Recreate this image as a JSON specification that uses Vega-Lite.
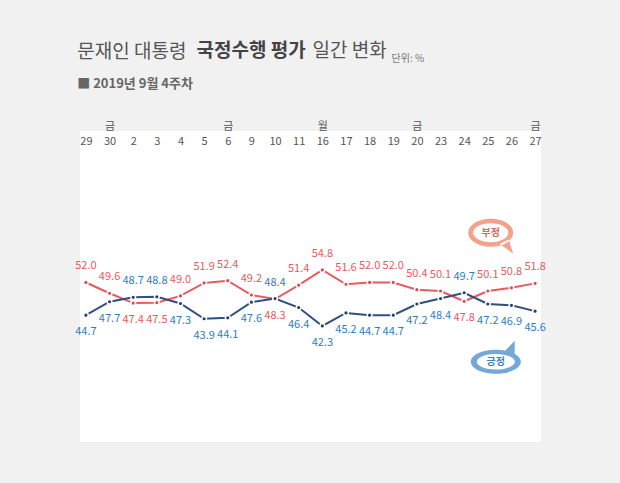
{
  "$schema": "https://vega.github.io/schema/vega-lite/v6.json",
  "width": 461,
  "height": 311,
  "autosize": "none",
  "padding": {"left": 80, "top": 131, "right": 79, "bottom": 41},
  "background": "#f1f1f1",
  "config": {
    "font": "Noto Sans CJK KR",
    "view": {"fill": "white", "stroke": null}
  },
  "title": {
    "text": "문재인 대통령",
    "subtitle": "■ 2019년 9월 4주차",
    "anchor": "start",
    "fontSize": 19,
    "fontWeight": "normal",
    "color": "#555555",
    "subtitleFontSize": 13,
    "subtitleFontWeight": "bold",
    "subtitleColor": "#666666",
    "subtitlePadding": 16,
    "offset": -50,
    "dx": 2
  },
  "data": {
    "values": [
      {"day": "29", "dow": "", "type": "부정", "value": 52.0},
      {"day": "30", "dow": "금", "type": "부정", "value": 49.6},
      {"day": "2", "dow": "", "type": "부정", "value": 47.4},
      {"day": "3", "dow": "", "type": "부정", "value": 47.5},
      {"day": "4", "dow": "", "type": "부정", "value": 49.0},
      {"day": "5", "dow": "", "type": "부정", "value": 51.9},
      {"day": "6", "dow": "금", "type": "부정", "value": 52.4},
      {"day": "9", "dow": "", "type": "부정", "value": 49.2},
      {"day": "10", "dow": "", "type": "부정", "value": 48.3},
      {"day": "11", "dow": "", "type": "부정", "value": 51.4},
      {"day": "16", "dow": "월", "type": "부정", "value": 54.8},
      {"day": "17", "dow": "", "type": "부정", "value": 51.6},
      {"day": "18", "dow": "", "type": "부정", "value": 52.0},
      {"day": "19", "dow": "", "type": "부정", "value": 52.0},
      {"day": "20", "dow": "금", "type": "부정", "value": 50.4},
      {"day": "23", "dow": "", "type": "부정", "value": 50.1},
      {"day": "24", "dow": "", "type": "부정", "value": 47.8},
      {"day": "25", "dow": "", "type": "부정", "value": 50.1},
      {"day": "26", "dow": "", "type": "부정", "value": 50.8},
      {"day": "27", "dow": "금", "type": "부정", "value": 51.8},
      {"day": "29", "dow": "", "type": "긍정", "value": 44.7},
      {"day": "30", "dow": "금", "type": "긍정", "value": 47.7},
      {"day": "2", "dow": "", "type": "긍정", "value": 48.7},
      {"day": "3", "dow": "", "type": "긍정", "value": 48.8},
      {"day": "4", "dow": "", "type": "긍정", "value": 47.3},
      {"day": "5", "dow": "", "type": "긍정", "value": 43.9},
      {"day": "6", "dow": "금", "type": "긍정", "value": 44.1},
      {"day": "9", "dow": "", "type": "긍정", "value": 47.6},
      {"day": "10", "dow": "", "type": "긍정", "value": 48.4},
      {"day": "11", "dow": "", "type": "긍정", "value": 46.4},
      {"day": "16", "dow": "월", "type": "긍정", "value": 42.3},
      {"day": "17", "dow": "", "type": "긍정", "value": 45.2},
      {"day": "18", "dow": "", "type": "긍정", "value": 44.7},
      {"day": "19", "dow": "", "type": "긍정", "value": 44.7},
      {"day": "20", "dow": "금", "type": "긍정", "value": 47.2},
      {"day": "23", "dow": "", "type": "긍정", "value": 48.4},
      {"day": "24", "dow": "", "type": "긍정", "value": 49.7},
      {"day": "25", "dow": "", "type": "긍정", "value": 47.2},
      {"day": "26", "dow": "", "type": "긍정", "value": 46.9},
      {"day": "27", "dow": "금", "type": "긍정", "value": 45.6}
    ]
  },
  "transform": [
    {"calculate": "datum.day + '|' + datum.dow", "as": "key"},
    {"joinaggregate": [{"op": "max", "field": "value", "as": "mx"}], "groupby": ["key"]},
    {"calculate": "datum.value == datum.mx", "as": "top"}
  ],
  "resolve": {"axis": {"y": "independent"}, "scale": {"color": "independent", "fill": "independent"}},
  "layer": [
    {
      "mark": {"type": "line", "strokeWidth": 2},
      "encoding": {
        "x": {
          "field": "key", "type": "ordinal", "sort": null,
          "scale": {"type": "point", "padding": 0.25},
          "axis": {
            "orient": "top", "title": null, "domain": false, "ticks": false, "grid": false,
            "labelAngle": 0, "labelPadding": 0, "labelFontSize": 11, "labelColor": "#555555",
            "labelLineHeight": 15,
            "labelExpr": "[split(datum.value, '|')[1], split(datum.value, '|')[0]]"
          }
        },
        "y": {
          "field": "value", "type": "quantitative",
          "scale": {"domain": [16.4, 85.8], "nice": false, "zero": false},
          "axis": {
            "orient": "left", "labels": false, "ticks": false, "domain": false, "grid": false,
            "title": "국정수행 평가", "titleAngle": 0, "titleAlign": "left", "titleBaseline": "middle",
            "titleX": 116, "titleY": -81, "titleFontSize": 19, "titleFontWeight": "bold", "titleColor": "#444444"
          }
        },
        "color": {
          "field": "type", "type": "nominal", "legend": null,
          "scale": {"domain": ["부정", "긍정"], "range": ["#e85a5e", "#2f4f7f"]}
        },
        "detail": {"field": "type"}
      }
    },
    {
      "mark": {"type": "point", "filled": true, "size": 22, "stroke": "white", "strokeWidth": 1.5, "opacity": 1},
      "encoding": {
        "x": {"field": "key", "type": "ordinal", "sort": null},
        "y": {
          "field": "value", "type": "quantitative",
          "axis": {
            "orient": "left", "labels": false, "ticks": false, "domain": false, "grid": false,
            "title": "일간 변화", "titleAngle": 0, "titleAlign": "left", "titleBaseline": "middle",
            "titleX": 232, "titleY": -81, "titleFontSize": 19, "titleFontWeight": "normal", "titleColor": "#555555"
          }
        },
        "fill": {
          "field": "type", "type": "nominal", "legend": null,
          "scale": {"domain": ["부정", "긍정"], "range": ["#dc4a50", "#243f6c"]}
        }
      }
    },
    {
      "transform": [{"filter": "datum.top"}],
      "mark": {"type": "text", "dy": -16, "fontSize": 11, "baseline": "middle"},
      "encoding": {
        "x": {"field": "key", "type": "ordinal", "sort": null},
        "y": {
          "field": "value", "type": "quantitative",
          "axis": {
            "orient": "left", "labels": false, "ticks": false, "domain": false, "grid": false,
            "title": "단위: %", "titleAngle": 0, "titleAlign": "left", "titleBaseline": "middle",
            "titleX": 311, "titleY": -73, "titleFontSize": 10, "titleFontWeight": "normal", "titleColor": "#777777"
          }
        },
        "text": {"field": "value", "type": "quantitative", "format": ".1f"},
        "color": {
          "field": "type", "type": "nominal", "legend": null,
          "scale": {"domain": ["부정", "긍정"], "range": ["#e85a5e", "#2e7dbd"]}
        }
      }
    },
    {
      "transform": [{"filter": "!datum.top"}],
      "mark": {"type": "text", "dy": 17, "fontSize": 11, "baseline": "middle"},
      "encoding": {
        "x": {"field": "key", "type": "ordinal", "sort": null},
        "y": {"field": "value", "type": "quantitative", "axis": null},
        "text": {"field": "value", "type": "quantitative", "format": ".1f"},
        "color": {
          "field": "type", "type": "nominal", "legend": null,
          "scale": {"domain": ["부정", "긍정"], "range": ["#e85a5e", "#2e7dbd"]}
        }
      }
    },
    {
      "data": {"values": [{"label": "부정"}]},
      "mark": {
        "type": "point", "filled": true, "size": 2025, "opacity": 1, "color": "#f3a38b",
        "shape": "M-0.87,0 A1,0.62 0 1,1 1.13,0 A1,0.62 0 1,1 -0.87,0 Z M0.53,0.5 L1.13,0.93 L0.93,0.3 Z"
      },
      "encoding": {"x": {"datum": "25|"}, "y": {"datum": 63.1, "axis": null}}
    },
    {
      "data": {"values": [{"label": "부정"}]},
      "mark": {
        "type": "point", "filled": true, "size": 2025, "opacity": 1, "color": "white",
        "shape": "M-0.65,0 A0.78,0.42 0 1,1 0.91,0 A0.78,0.42 0 1,1 -0.65,0 Z"
      },
      "encoding": {"x": {"datum": "25|"}, "y": {"datum": 63.1, "axis": null}}
    },
    {
      "data": {"values": [{"label": "부정"}]},
      "mark": {"type": "text", "dx": 3, "fontSize": 10, "fontWeight": "bold", "color": "#d06a52", "baseline": "middle"},
      "encoding": {"x": {"datum": "25|"}, "y": {"datum": 63.1, "axis": null}, "text": {"field": "label"}}
    },
    {
      "data": {"values": [{"label": "긍정"}]},
      "mark": {
        "type": "point", "filled": true, "size": 2500, "opacity": 1, "color": "#72a9d8",
        "shape": "M-0.68,0 A1,0.48 0 1,1 1.32,0 A1,0.48 0 1,1 -0.68,0 Z M0.67,-0.42 L1.08,-0.84 L1.07,-0.28 Z"
      },
      "encoding": {"x": {"datum": "25|"}, "y": {"datum": 34.3, "axis": null}}
    },
    {
      "data": {"values": [{"label": "긍정"}]},
      "mark": {
        "type": "point", "filled": true, "size": 2500, "opacity": 1, "color": "white",
        "shape": "M-0.44,0 A0.76,0.31 0 1,1 1.08,0 A0.76,0.31 0 1,1 -0.44,0 Z"
      },
      "encoding": {"x": {"datum": "25|"}, "y": {"datum": 34.3, "axis": null}}
    },
    {
      "data": {"values": [{"label": "긍정"}]},
      "mark": {"type": "text", "dx": 8, "fontSize": 10, "fontWeight": "bold", "color": "#3f7fbd", "baseline": "middle"},
      "encoding": {"x": {"datum": "25|"}, "y": {"datum": 34.3, "axis": null}, "text": {"field": "label"}}
    }
  ]
}
